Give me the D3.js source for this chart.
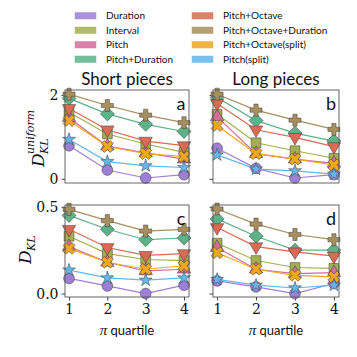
<!DOCTYPE html>
<html>
<head>
<meta charset="utf-8">
<script src="https://cdn.jsdelivr.net/npm/d3@7"></script>
<style>
  body { margin: 0; background: #fff; }
  svg text { fill: #111; }
</style>
</head>
<body>
<div id="chart"></div>
<script>
// data
var quartiles = [1, 2, 3, 4];
var seriesNames = ['Duration', 'Interval', 'Pitch', 'Pitch+Duration',
    'Pitch+Octave', 'Pitch+Octave+Duration', 'Pitch+Octave(split)', 'Pitch(split)'];
var seriesColors = ['#9d80d6', '#a3b04f', '#d46c9c', '#5cb389',
    '#da6b52', '#a88f5e', '#eea81f', '#62b7eb'];
var seriesMarkers = ['circle', 'square', 'triUp', 'diamond', 'triDown', 'plus', 'cross', 'star'];

// panel a: short pieces, D_KL^uniform
var shortUniform = [
    [0.79, 0.21, 0.02, 0.10],
    [1.59, 1.07, 0.83, 0.63],
    [1.46, 0.78, 0.62, 0.47],
    [1.92, 1.55, 1.30, 1.13],
    [1.68, 1.17, 0.90, 0.79],
    [2.02, 1.75, 1.52, 1.34],
    [1.39, 0.77, 0.60, 0.53],
    [0.94, 0.41, 0.31, 0.27]
];
// panel b: long pieces, D_KL^uniform
var longUniform = [
    [0.73, 0.25, 0.02, 0.10],
    [1.54, 0.86, 0.67, 0.49],
    [1.48, 0.60, 0.47, 0.37],
    [1.94, 1.39, 1.09, 0.90],
    [1.80, 1.17, 0.99, 0.77],
    [2.02, 1.64, 1.40, 1.18],
    [1.27, 0.60, 0.47, 0.33],
    [0.57, 0.23, 0.19, 0.11]
];
// panel c: short pieces, D_KL
var shortKL = [
    [0.087, 0.044, 0.000, 0.048],
    [0.330, 0.230, 0.196, 0.190],
    [0.270, 0.180, 0.130, 0.140],
    [0.450, 0.370, 0.310, 0.320],
    [0.370, 0.265, 0.220, 0.230],
    [0.485, 0.420, 0.360, 0.370],
    [0.260, 0.180, 0.140, 0.160],
    [0.135, 0.090, 0.077, 0.090]
];
// panel d: long pieces, D_KL
var longKL = [
    [0.073, 0.038, 0.000, 0.058],
    [0.290, 0.190, 0.150, 0.145],
    [0.265, 0.140, 0.115, 0.120],
    [0.430, 0.330, 0.250, 0.250],
    [0.380, 0.270, 0.240, 0.215],
    [0.487, 0.400, 0.340, 0.310],
    [0.235, 0.140, 0.105, 0.096],
    [0.081, 0.048, 0.032, 0.048]
];
var topTicks = [0, 2];
var bottomTicks = [0, 0.5];
var bottomTickLabels = ['0.0', '0.5'];

var svg = d3.select('#chart').append('svg')
    .attr('width', 357)
    .attr('height', 357);

var serif = '"DejaVu Serif", "Liberation Serif", serif';
var sans = 'Lato, "DejaVu Sans", sans-serif';

// marker shapes
function plusPath(s, w) {
    return 'M' + (-w) + ',' + (-s) + 'H' + w + 'V' + (-w) + 'H' + s + 'V' + w + 'H' + w +
        'V' + s + 'H' + (-w) + 'V' + w + 'H' + (-s) + 'V' + (-w) + 'H' + (-w) + 'Z';
}
function markerPath(kind) {
    if (kind == 'circle') return d3.symbol(d3.symbolCircle, 92)();
    if (kind == 'square') return d3.symbol(d3.symbolSquare, 96)();
    if (kind == 'triUp') return d3.symbol(d3.symbolTriangle, 78)();
    if (kind == 'triDown') return d3.symbol(d3.symbolTriangle, 78)();
    if (kind == 'diamond') return 'M0,-7L7,0L0,7L-7,0Z';
    if (kind == 'plus') return plusPath(6, 2.1);
    if (kind == 'cross') return plusPath(6.3, 2.1);
    if (kind == 'star') return d3.symbol(d3.symbolStar, 52)();
}
function markerRotate(kind) {
    if (kind == 'triDown') return 180;
    if (kind == 'cross') return 45;
    return 0;
}

var panels = [
    {data: shortUniform, x0: 65, x1: 189, y0: 90, y1: 183, dom: [-0.1, 2.12], ticks: topTicks, labels: ['0', '2'], letter: 'a', yl: true, xl: false},
    {data: longUniform, x0: 213, x1: 339, y0: 90, y1: 183, dom: [-0.1, 2.12], ticks: topTicks, labels: null, letter: 'b', yl: false, xl: false},
    {data: shortKL, x0: 65, x1: 189, y0: 205, y1: 297, dom: [-0.02, 0.51], ticks: bottomTicks, labels: bottomTickLabels, letter: 'c', yl: true, xl: true},
    {data: longKL, x0: 213, x1: 339, y0: 205, y1: 297, dom: [-0.02, 0.51], ticks: bottomTicks, labels: null, letter: 'd', yl: false, xl: true}
];

panels.forEach(function(p) {
    var x = d3.scaleLinear().domain([0.895, 4.13]).range([p.x0, p.x1]);
    var y = d3.scaleLinear().domain(p.dom).range([p.y1, p.y0]);

    // y axis
    var yAxis = d3.axisLeft(y).tickValues(p.ticks).tickSize(3.5).tickPadding(3)
        .tickFormat(function(d, i) { return p.labels ? p.labels[i] : ''; });
    var gy = svg.append('g').attr('transform', 'translate(' + p.x0 + ',0)').call(yAxis);
    gy.select('.domain').remove();
    gy.selectAll('line').attr('stroke', '#444');
    gy.selectAll('text').style('font-family', serif).style('font-size', '14px').attr('fill', '#111');

    if (p.xl) {
        var xAxis = d3.axisBottom(x).tickValues(quartiles).tickSize(3.5).tickPadding(4)
            .tickFormat(d3.format('d'));
        var gx = svg.append('g').attr('transform', 'translate(0,' + p.y1 + ')').call(xAxis);
        gx.select('.domain').remove();
        gx.selectAll('line').attr('stroke', '#444');
        gx.selectAll('text').style('font-family', serif).style('font-size', '14px').attr('fill', '#111');
    }

    var line = d3.line()
        .x(function(d, i) { return x(quartiles[i]); })
        .y(function(d) { return y(d); });

    p.data.forEach(function(vals, s) {
        var g = svg.append('g');
        g.append('path')
            .attr('d', line(vals))
            .attr('fill', 'none')
            .attr('stroke', seriesColors[s])
            .attr('stroke-width', 1.2);
        g.selectAll('path.mk')
            .data(vals)
            .enter()
            .append('path')
                .attr('class', 'mk')
                .attr('d', markerPath(seriesMarkers[s]))
                .attr('transform', function(d, i) {
                    return 'translate(' + x(quartiles[i]) + ',' + y(d) + ') rotate(' + markerRotate(seriesMarkers[s]) + ')';
                })
                .attr('fill', seriesColors[s])
                .attr('stroke', '#3a3a3a')
                .attr('stroke-width', 0.5);
    });

    // frame
    svg.append('rect')
        .attr('x', p.x0).attr('y', p.y0)
        .attr('width', p.x1 - p.x0).attr('height', p.y1 - p.y0)
        .attr('fill', 'none')
        .attr('stroke', '#555')
        .attr('stroke-width', 0.9);

    svg.append('text')
        .attr('x', p.x1 - 8).attr('y', p.y0 + 20)
        .style('text-anchor', 'middle')
        .style('font-family', sans).style('font-size', '18px')
        .text(p.letter);

    if (p.xl) {
        var t = svg.append('text')
            .attr('x', (p.x0 + p.x1) / 2).attr('y', 335)
            .style('text-anchor', 'middle')
            .style('font-size', '13px');
        t.append('tspan').style('font-family', '"Liberation Serif", serif').style('font-style', 'italic').style('font-size', '15px').text('π');
        t.append('tspan').style('font-family', sans).text(' quartile');
    }
});

// titles
svg.append('text').attr('x', 127).attr('y', 85)
    .style('text-anchor', 'middle').style('font-family', sans).style('font-size', '17px')
    .text('Short pieces');
svg.append('text').attr('x', 276).attr('y', 85)
    .style('text-anchor', 'middle').style('font-family', sans).style('font-size', '17px')
    .text('Long pieces');

// y labels
var ya = svg.append('g').attr('transform', 'translate(44,167) rotate(-90)');
ya.append('text').attr('x', 0).attr('y', 0)
    .style('font-family', serif).style('font-style', 'italic').style('font-size', '17px')
    .text('D');
ya.append('text').attr('x', 13).attr('y', 4)
    .style('font-family', serif).style('font-style', 'italic').style('font-size', '11px')
    .text('KL');
ya.append('text').attr('x', 13).attr('y', -10)
    .style('font-family', serif).style('font-style', 'italic').style('font-size', '11px')
    .text('uniform');

var yc = svg.append('g').attr('transform', 'translate(31,264) rotate(-90)');
yc.append('text').attr('x', 0).attr('y', 0)
    .style('font-family', serif).style('font-style', 'italic').style('font-size', '17px')
    .text('D');
yc.append('text').attr('x', 13).attr('y', 4)
    .style('font-family', serif).style('font-style', 'italic').style('font-size', '11px')
    .text('KL');

// legend
var legend = svg.append('g');
seriesNames.forEach(function(name, i) {
    var col = Math.floor(i / 4), row = i % 4;
    var lx = col == 0 ? 75 : 192;
    var ly = 15.5 + row * 14.5;
    legend.append('rect')
        .attr('x', lx).attr('y', ly - 3)
        .attr('width', 21).attr('height', 6.5)
        .attr('fill', seriesColors[i])
        .attr('opacity', 0.85)
        .attr('stroke', seriesColors[i])
        .attr('stroke-opacity', 0.5);
    legend.append('text')
        .attr('x', lx + 31).attr('y', ly + 3.5)
        .style('font-family', sans).style('font-size', '10px')
        .text(name);
});
</script>
</body>
</html>
